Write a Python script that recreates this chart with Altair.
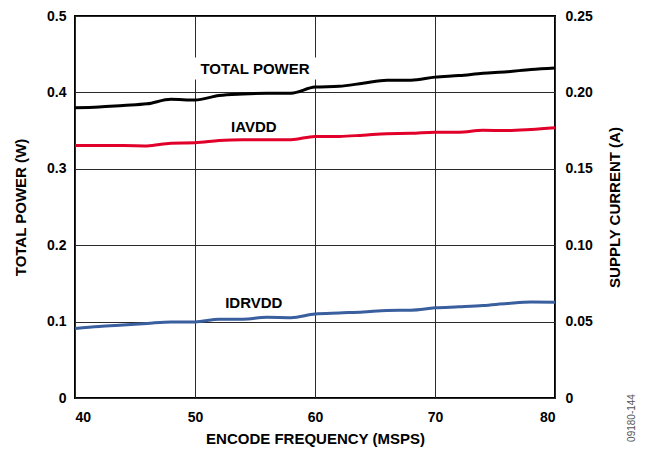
import altair as alt
import pandas as pd

# ---- data ----
freq = [40, 42, 44, 46, 48, 50, 52, 54, 56, 58, 60, 62, 64, 66, 68, 70, 72, 74, 76, 78, 80]
total_power_w = [0.380, 0.381, 0.383, 0.385, 0.391, 0.390, 0.396, 0.398, 0.399, 0.399, 0.407,
                 0.408, 0.412, 0.416, 0.416, 0.420, 0.422, 0.425, 0.427, 0.430, 0.432]
iavdd_a = [0.1652, 0.1652, 0.1652, 0.1650, 0.1668, 0.1670, 0.1685, 0.1690, 0.1690, 0.1690, 0.1712,
           0.1712, 0.1720, 0.1730, 0.1732, 0.1740, 0.1740, 0.1752, 0.1750, 0.1757, 0.1768]
idrvdd_a = [0.0455, 0.0468, 0.0478, 0.0488, 0.0498, 0.0498, 0.0515, 0.0516, 0.0528, 0.0526, 0.0550,
            0.0557, 0.0563, 0.0573, 0.0575, 0.0590, 0.0597, 0.0605, 0.0618, 0.0628, 0.0627]

series_names = ["IAVDD", "IDRVDD"]
series_colors = ["#e0002a", "#3a5f9e"]

label_text = ["TOTAL POWER", "IAVDD", "IDRVDD"]
label_freq = [55.0, 54.9, 54.9]
label_power = [0.431, 0.3547, 0.1237]

x_ticks = [40, 50, 60, 70, 80]
left_ticks = [0, 0.1, 0.2, 0.3, 0.4, 0.5]
right_ticks = [0, 0.05, 0.10, 0.15, 0.20, 0.25]

FONT = "Liberation Sans"

df_power = pd.DataFrame({"freq": freq, "value": total_power_w})
df_curr = pd.concat([
    pd.DataFrame({"freq": freq, "value": iavdd_a, "series": "IAVDD"}),
    pd.DataFrame({"freq": freq, "value": idrvdd_a, "series": "IDRVDD"}),
])
df_labels = pd.DataFrame({"text": label_text, "freq": label_freq, "value": label_power})
df_box = pd.DataFrame({"x1": [49.6], "x2": [60.4], "y1": [0.417], "y2": [0.4457]})

x_enc = alt.X("freq:Q", scale=alt.Scale(domain=[40, 80], nice=False),
              axis=alt.Axis(values=x_ticks, title="ENCODE FREQUENCY (MSPS)", grid=True,
                            labelPadding=12, titlePadding=7, format="d"))

y_left_scale = alt.Scale(domain=[0, 0.5], nice=False)
y_left_axis = alt.Axis(values=left_ticks, title="TOTAL POWER (W)", orient="left", grid=True,
                       labelExpr="datum.value == 0 ? '0' : format(datum.value, '.1f')",
                       labelPadding=9, titlePadding=18)

power_line = alt.Chart(df_power).mark_line(color="black", strokeWidth=3, interpolate="monotone").encode(
    x=x_enc,
    y=alt.Y("value:Q", scale=y_left_scale, axis=y_left_axis),
)

box = alt.Chart(df_box).mark_rect(color="white").encode(
    x=alt.X("x1:Q", scale=alt.Scale(domain=[40, 80], nice=False)),
    x2="x2:Q",
    y=alt.Y("y1:Q", scale=y_left_scale),
    y2="y2:Q",
)

labels = alt.Chart(df_labels).mark_text(font=FONT, fontSize=15, fontWeight="bold", color="black",
                                        align="center", baseline="middle").encode(
    x=alt.X("freq:Q", scale=alt.Scale(domain=[40, 80], nice=False)),
    y=alt.Y("value:Q", scale=y_left_scale),
    text="text:N",
)

left = alt.layer(power_line, box, labels)

curr_lines = alt.Chart(df_curr).mark_line(strokeWidth=3, interpolate="monotone").encode(
    x=x_enc,
    y=alt.Y("value:Q", scale=alt.Scale(domain=[0, 0.25], nice=False),
            axis=alt.Axis(values=right_ticks, title="SUPPLY CURRENT (A)", orient="right", grid=False,
                          labelExpr="datum.value == 0 ? '0' : format(datum.value, '.2f')",
                          labelPadding=10, titlePadding=15, titleAngle=270, titleBaseline="top")),
    color=alt.Color("series:N", scale=alt.Scale(domain=series_names, range=series_colors), legend=None),
)

watermark = alt.Chart(pd.DataFrame({"t": ["09180-144"]})).mark_text(
    font=FONT, fontSize=10, color="#555555", angle=270, align="center", baseline="middle"
).encode(text="t:N", x=alt.value(557), y=alt.value(402))

chart = alt.layer(left, curr_lines, watermark).resolve_scale(y="independent").properties(
    width=480, height=382,
    autosize=alt.AutoSizeParams(type="none"),
    padding={"left": 67, "top": 8, "right": 82, "bottom": 50},
).configure_view(stroke="black", strokeWidth=2).configure_axis(
    domain=False, ticks=False,
    gridColor="#2a2a2a", gridWidth=1, gridOpacity=1,
    labelFont=FONT, labelFontSize=14, labelFontWeight="bold", labelColor="black",
    titleFont=FONT, titleFontSize=15, titleFontWeight="bold", titleColor="black",
)

chart.save("out.html", embed_options={"renderer": "svg", "actions": False})
